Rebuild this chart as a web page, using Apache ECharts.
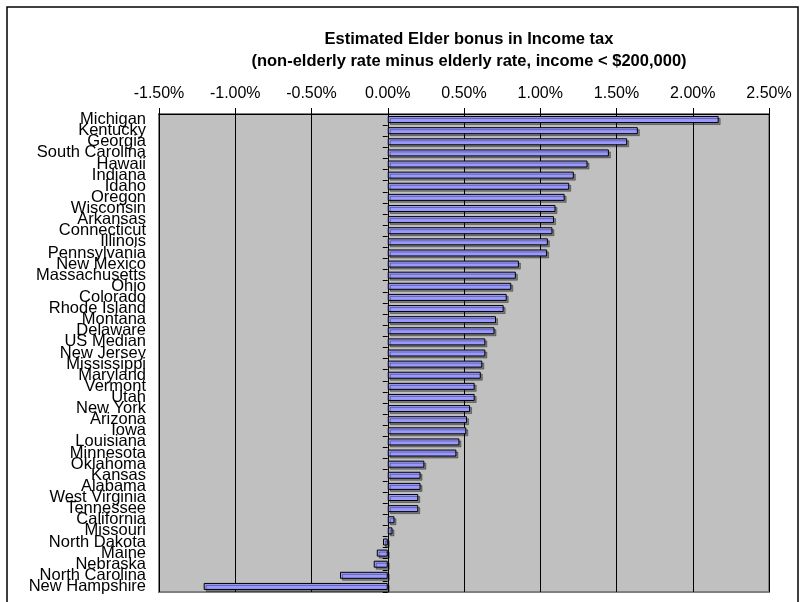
<!DOCTYPE html>
<html>
<head>
<meta charset="utf-8">
<script src="https://cdn.jsdelivr.net/npm/echarts@6/dist/echarts.min.js"></script>
<style>html,body{margin:0;padding:0;background:#fff}#c{width:804px;height:602px}</style>
</head>
<body>
<div id="c"></div>
<script>
const states = ["Michigan","Kentucky","Georgia","South Carolina","Hawaii","Indiana","Idaho","Oregon","Wisconsin","Arkansas","Connecticut","Illinois","Pennsylvania","New Mexico","Massachusetts","Ohio","Colorado","Rhode Island","Montana","Delaware","US Median","New Jersey","Mississippi","Maryland","Vermont","Utah","New York","Arizona","Iowa","Louisiana","Minnesota","Oklahoma","Kansas","Alabama","West Virginia","Tennessee","California","Missouri","North Dakota","Maine","Nebraska","North Carolina","New Hampshire"];
const bonus = [2.17,1.64,1.57,1.45,1.31,1.22,1.19,1.16,1.10,1.09,1.08,1.05,1.045,0.86,0.84,0.81,0.78,0.76,0.71,0.70,0.64,0.64,0.62,0.61,0.57,0.57,0.54,0.52,0.515,0.47,0.45,0.24,0.215,0.215,0.20,0.20,0.044,0.031,-0.031,-0.072,-0.092,-0.313,-1.207];
const xMin = -1.5, xMax = 2.5, xStep = 0.5;
const titleLine1 = "Estimated Elder bonus in Income tax";
const titleLine2 = "(non-elderly rate minus elderly rate, income < $200,000)";

const chart = echarts.init(document.getElementById('c'));
const FONT = '"Liberation Sans", Arial, sans-serif';
chart.setOption({
  animation: false,
  backgroundColor: '#ffffff',
  graphic: [{
    type: 'rect', shape: {x: 7, y: 7, width: 791, height: 600},
    style: {fill: 'none', stroke: '#000', lineWidth: 1.5}, silent: true, z: -1
  }],
  title: {
    text: titleLine1,
    subtext: titleLine2,
    left: 464, top: 26, textAlign: 'center', itemGap: 5,
    textStyle: {fontFamily: FONT, fontSize: 16.5, fontWeight: 'bold', color: '#000'},
    subtextStyle: {fontFamily: FONT, fontSize: 16.5, fontWeight: 'bold', color: '#000'}
  },
  grid: {
    left: 159, right: 35, top: 114, bottom: 10,
    show: true, backgroundColor: '#C0C0C0', borderColor: '#808080', borderWidth: 2
  },
  xAxis: {
    type: 'value', position: 'top', min: xMin, max: xMax, interval: xStep,
    axisLine: {show: true, lineStyle: {color: '#000', width: 1}},
    axisTick: {show: true, length: 6, lineStyle: {color: '#000'}},
    axisLabel: {fontFamily: FONT, fontSize: 16, color: '#000', margin: 12,
      formatter: v => v.toFixed(2) + '%'},
    splitLine: {show: true, lineStyle: {color: '#000', width: 1}}
  },
  yAxis: [{
    type: 'category', data: states, inverse: true,
    axisLine: {show: true, onZero: true, lineStyle: {color: '#000', width: 1}},
    axisTick: {show: true, interval: 0, length: 5, lineStyle: {color: '#000'}},
    axisLabel: {show: false}
  }, {
    type: 'category', data: states, inverse: true, position: 'left',
    axisLine: {show: false, onZero: false},
    axisTick: {show: false},
    axisLabel: {show: true, interval: 0, fontFamily: FONT, fontSize: 16.5, color: '#000', margin: 13}
  }],
  series: [{
    type: 'bar', data: bonus, yAxisIndex: 0, barWidth: 7,
    itemStyle: {color: '#9999FF', borderColor: '#000', borderWidth: 1,
      shadowColor: 'rgba(0,0,0,0.35)', shadowOffsetX: 2, shadowOffsetY: 2, shadowBlur: 0}
  }]
});
</script>
</body>
</html>
